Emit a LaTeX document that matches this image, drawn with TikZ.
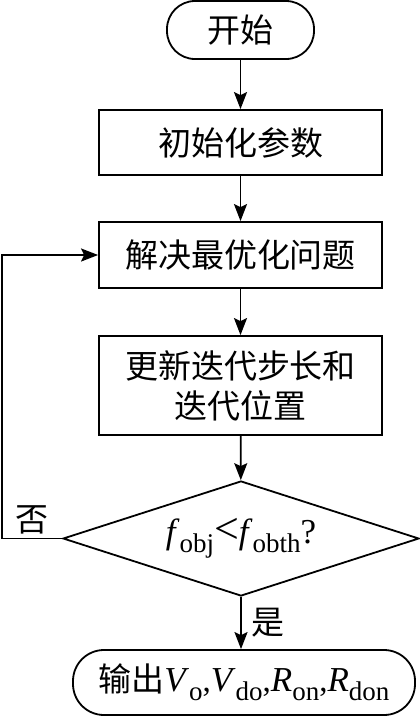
\documentclass[tikz,border=0pt]{standalone}
\usepackage{fontspec}
\setmainfont{Liberation Serif}
\newfontfamily\cjk{Noto Sans CJK SC}
\usepackage{tikz}
\usetikzlibrary{shapes.geometric, arrows.meta, positioning, calc}

% italic symbol with an upright index
\newcommand{\symidx}[2]{{\rmfamily\fontsize{35}{40}\selectfont\textit{#1}\raisebox{-9pt}{\fontsize{27}{27}\selectfont #2}}}

\begin{document}
\begin{tikzpicture}[x=1pt, y=-1pt, line width=1.8pt, >={Stealth[length=17pt,width=13pt,inset=3pt]},
        term/.style={draw, rounded corners=28pt, inner sep=0pt},
        proc/.style={draw, minimum width=283pt, inner sep=0pt},
        decide/.style={draw, diamond, aspect=3, minimum width=356pt, minimum height=115pt, inner sep=0pt},
        lbl/.style={font=\cjk\fontsize{33}{40}\selectfont}]
        \useasboundingbox (0,0) rectangle (420,716);

        % Draw the terminals and the process boxes
        \node[term, lbl, minimum width=147pt, minimum height=58pt] (start) at (240.5,30) {开始};
        \node[proc, lbl, minimum height=65pt] (init) at (240.5,142.5) {初始化参数};
        \node[proc, lbl, minimum height=66pt] (solve) at (240.5,255) {解决最优化问题};
        \node[proc, lbl, minimum height=99pt, align=center] (update) at (240.5,385.5) {更新迭代步长和\\迭代位置};
        \node[decide, lbl] (check) at (241,538.5)
            {\symidx{f}{obj}{\rmfamily\fontsize{44}{40}\selectfont\textless}\symidx{f}{obth}{\rmfamily\fontsize{35}{40}\selectfont ?}};
        \node[term, lbl, rounded corners=31pt, minimum width=342pt, minimum height=65pt] (output) at (244,682.5)
            {输出\symidx{V}{o}{\rmfamily ,}\symidx{V}{do}{\rmfamily ,}\symidx{R}{on}{\rmfamily ,}\symidx{R}{don}};

        % Draw the arrows
        \draw[->] (start) -- (init);
        \draw[->] (init) -- (solve);
        \draw[->] (solve) -- (update);
        \draw[->] (update) -- (check);
        \draw[->] (check.south) -- node[right=6pt, lbl] {是} (check.south |- output.north);
        \draw[->] (check.west) -- ++(-60,0) node[midway, above, lbl] {否} |- (solve.west);

    \end{tikzpicture}
\end{document}
